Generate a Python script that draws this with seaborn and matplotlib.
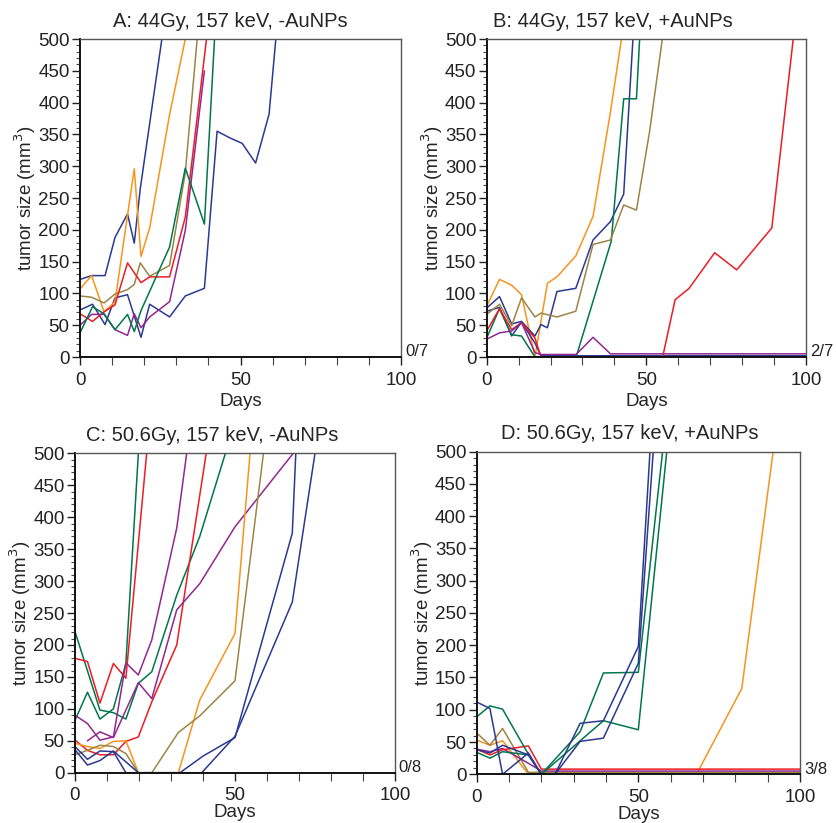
import numpy as np
import pandas as pd
import seaborn as sns
import matplotlib.pyplot as plt
from matplotlib.ticker import MultipleLocator

# Farben der einzelnen Mäuse
BLUE = '#2b3990'
ORANGE = '#f7941d'
OLIVE = '#9a8546'
RED = '#ed1c24'
PURPLE = '#92278f'
GREEN = '#00774a'

# ## Panel A: 44Gy, -AuNPs
a_colors = [BLUE, BLUE, ORANGE, OLIVE, RED, PURPLE, GREEN]
a_days = [
    [0, 3.6, 7.8, 10.9, 14.8, 16.9, 18.75, 25.5],
    [0, 3.9, 7.8, 10.9, 14.8, 19, 21.7, 27.9, 32.8, 38.75, 42.7, 46.9, 50.5, 54.7, 58.9, 61],
    [0, 3.6, 7.5, 10.9, 16.9, 19, 21.7, 27.9, 32.8],
    [0, 3.6, 7.5, 10.9, 14.8, 16.9, 18.75, 21.7, 27.9, 32.8, 36.5],
    [0, 3.9, 7.5, 10.9, 14.8, 19, 21.7, 27.9, 32.8, 39.4],
    [0, 3.6, 7.5, 10.9, 14.8, 16.9, 19, 21.7, 27.9, 32.8, 38.75],
    [0, 3.9, 7.5, 10.9, 14.8, 16.9, 19, 27.9, 32.8, 38.75, 41.9],
]
a_vals = [
    [122, 128, 128, 188, 225, 179, 264, 500],
    [74, 83, 51, 93, 98, 31, 83, 63, 96, 108, 355, 344, 336, 305, 382, 500],
    [107, 128, 71, 87, 296, 158, 203, 381, 500],
    [96, 94, 85, 99, 106, 114, 148, 127, 144, 290, 500],
    [68, 56, 71, 82, 148, 117, 126, 126, 220, 500],
    [50, 67, 67, 43, 34, 68, 46, 63, 87, 199, 450],
    [38, 79, 68, 43, 67, 40, 73, 173, 297, 209, 500],
]

# ## Panel B: 44Gy, +AuNPs
b_colors = [ORANGE, BLUE, BLUE, GREEN, OLIVE, RED, PURPLE]
b_days = [
    [0, 4, 7.8, 10.9, 15.1, 19, 22, 27.9, 33.3, 38.75, 42.2],
    [0, 4, 7.8, 10.9, 15.1, 17, 19, 22, 27.9, 33.3, 38.75, 42.9, 45.8],
    [0, 4, 7.8, 10.9, 15.1, 17, 100],
    [0, 4, 7.8, 10.9, 15.1, 28, 39, 42.9, 46.9, 47.9],
    [0, 4, 7.8, 10.9, 15.1, 17, 22, 27.9, 33.3, 38.75, 42.9, 46.9, 51, 55],
    [0, 4, 7.8, 10.9, 15.1, 17, 55.1, 59, 63.4, 71.4, 78.3, 89.3, 96],
    [0, 4, 7.8, 10.9, 15.1, 17, 28, 33.3, 38.75, 100],
]
b_vals = [
    [80, 122, 113, 98, 0, 116, 126, 159, 221, 385, 500],
    [77, 95, 52, 56, 33, 51, 46, 103, 108, 184, 213, 256, 500],
    [72, 78, 33, 55, 22, 2, 2],
    [30, 76, 35, 33, 0, 0, 182, 406, 406, 500],
    [67, 83, 49, 93, 63, 69, 63, 72, 177, 184, 239, 231, 354, 500],
    [41, 76, 43, 54, 30, 0, 0, 90, 108, 164, 137, 203, 500],
    [28, 38, 41, 54, 7, 4, 4, 31, 5, 5],
]

# ## Panel C: 50.6Gy, -AuNPs
c_colors = [GREEN, GREEN, RED, RED, PURPLE, PURPLE, ORANGE, OLIVE, BLUE, BLUE]
c_days = [
    [0, 3.9, 7.8, 12, 15.9, 19.8],
    [0, 7.8, 12, 15.9, 19.8, 24, 31.8, 39, 47],
    [0, 3.9, 7.8, 12, 15.9, 22.4],
    [0, 3.9, 7.8, 12, 15.9, 19.8, 24, 31.8, 41],
    [0, 3.9, 7.8, 12, 15.9, 19.8, 24, 31.8, 34.9],
    [3.9, 7.8, 12, 19.8, 24, 31.8, 39, 50, 68.2],
    [0, 3.9, 7.8, 12, 15.9, 19.8, 32.3, 39, 50, 54.7],
    [0, 3.9, 7.8, 12, 15.9, 19.8, 24, 32.3, 39, 50, 58.9],
    [0, 3.9, 7.8, 12, 15.9, 32.8, 40, 50, 67.9, 69],
    [0, 3.9, 7.8, 12, 19.8, 39.6, 50, 67.9, 75],
]
c_vals = [
    [82, 126, 84, 100, 171, 500],
    [221, 98, 94, 84, 140, 158, 278, 370, 500],
    [179, 174, 109, 171, 148, 500],
    [51, 35, 28, 28, 49, 56, 111, 200, 500],
    [90, 77, 51, 56, 172, 153, 208, 383, 500],
    [50, 64, 55, 141, 116, 255, 296, 385, 500],
    [46, 41, 38, 49, 50, 0, 0, 114, 218, 500],
    [28, 35, 43, 41, 30, 0, 0, 63, 89, 144, 500],
    [41, 21, 34, 33, 0, 0, 26, 55, 375, 500],
    [36, 12, 19, 34, 0, 0, 57, 267, 500],
]

# ## Panel D: 50.6Gy, +AuNPs
d_colors = [ORANGE, OLIVE, PURPLE, RED, GREEN, GREEN, BLUE, BLUE]
d_days = [
    [0, 4.1, 8, 16, 68, 82, 91.7],
    [0, 4.1, 8, 16, 100],
    [0, 4.1, 8, 16, 20, 100],
    [0, 4.1, 8, 16, 20, 100],
    [0, 4.1, 8, 16, 20, 32, 39.2, 50, 57.5],
    [0, 4.1, 8, 16, 20, 39.2, 50, 58.8],
    [0, 4.1, 8, 16, 20, 24.2, 32, 39.2, 50, 54.6],
    [0, 4.1, 8, 16, 20, 24.2, 32, 39.2, 50, 53.6],
]
d_vals = [
    [53, 45, 52, 0, 0, 133, 500],
    [64, 45, 71, 3, 3],
    [39, 35, 40, 17, 5, 5],
    [39, 30, 38, 44, 8, 8],
    [89, 106, 101, 31, 0, 66, 157, 158, 500],
    [34, 25, 35, 30, 0, 83, 69, 500],
    [112, 102, 0, 33, 0, 0, 51, 56, 172, 500],
    [38, 33, 45, 30, 0, 0, 79, 83, 198, 500],
]

titles = ['A: 44Gy, 157 keV, -AuNPs', 'B: 44Gy, 157 keV, +AuNPs',
          'C: 50.6Gy, 157 keV, -AuNPs', 'D: 50.6Gy, 157 keV, +AuNPs']
fractions = ['0/7', '2/7', '0/8', '3/8']

sns.set_style('white')
plt.rcParams['font.family'] = ['Liberation Sans', 'DejaVu Sans']

fig = plt.figure(figsize=(8.36, 8.23), dpi=100)
# Achsenpositionen [links, unten, breite, hoehe]
positions = [
    [0.0957, 0.5662, 0.3840, 0.3864],
    [0.5822, 0.5662, 0.3819, 0.3864],
    [0.0897, 0.0611, 0.3828, 0.3881],
    [0.5702, 0.0592, 0.3867, 0.3920],
]
title_x = [0.467, 0.396, 0.43, 0.474]
xlabel_pad = [3, 3, 0, 0]

panels = [(a_days, a_vals, a_colors), (b_days, b_vals, b_colors),
          (c_days, c_vals, c_colors), (d_days, d_vals, d_colors)]

for i, (days, vals, colors) in enumerate(panels):
    ax = fig.add_axes(positions[i])
    for d, v, c in zip(days, vals, colors):
        df = pd.DataFrame({'day': d, 'size': v})
        sns.lineplot(data=df, x='day', y='size', color=c, ax=ax, sort=False,
                     estimator=None, linewidth=1.1)
    ax.set_xlim(0, 100)
    ax.set_ylim(0, 500)
    ax.xaxis.set_major_locator(MultipleLocator(50))
    ax.xaxis.set_minor_locator(MultipleLocator(10))
    ax.yaxis.set_major_locator(MultipleLocator(50))
    ax.yaxis.set_minor_locator(MultipleLocator(10))
    ax.tick_params(axis='both', which='major', direction='out', length=5.5,
                   width=1.0, labelsize=13.5, colors='#222222')
    ax.tick_params(axis='x', which='major', pad=5)
    ax.tick_params(axis='y', which='major', pad=2)
    ax.tick_params(axis='x', which='minor', direction='out', length=5.5, width=0.8,
                   color='#444444')
    ax.tick_params(axis='y', which='minor', direction='out', length=3, width=0.8,
                   color='#444444')
    ax.tick_params(left=True, bottom=True, which='both')
    for s in ['left', 'bottom']:
        ax.spines[s].set_color('#111111')
        ax.spines[s].set_linewidth(1.4)
    for s in ['top', 'right']:
        ax.spines[s].set_color('#555555')
        ax.spines[s].set_linewidth(1.0)
    ax.set_xlabel('Days', fontsize=13.5, labelpad=xlabel_pad[i])
    ax.set_ylabel('tumor size (mm$^3$)', fontsize=13.5, labelpad=0)
    ax.set_title(titles[i], fontsize=14.5, x=title_x[i], pad=9)
    ax.text(1.012, 0.016, fractions[i], transform=ax.transAxes, fontsize=12,
            ha='left', va='center', color='#222222')

plt.savefig('out.png', dpi=100)
plt.close()
